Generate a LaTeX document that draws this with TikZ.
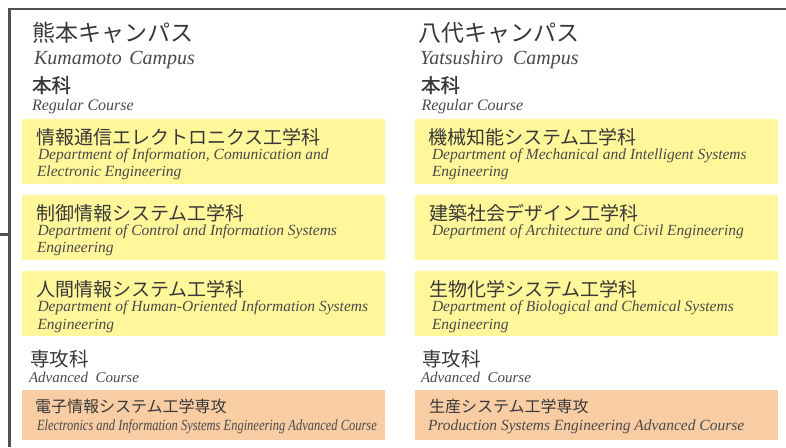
\documentclass[tikz,border=0pt]{standalone}
\usepackage{graphicx}
\usepackage{fontspec}
\setmainfont{Liberation Serif}
\newfontfamily\jp{Noto Sans CJK JP}
\newfontfamily\jpb[FakeBold=1.2]{Noto Sans CJK JP}
\definecolor{yfill}{HTML}{FFF799}
\definecolor{ofill}{HTML}{F9CDA4}
\definecolor{framec}{HTML}{505050}
\definecolor{jptext}{HTML}{383838}
\definecolor{entext}{HTML}{4A4A4A}
\begin{document}
\begin{tikzpicture}[x=1pt,y=-1pt,
  every node/.style={inner sep=0pt, outer sep=0pt, anchor=base west},
  frameline/.style={draw=framec, line width=2.2pt, line join=miter},
  ybox/.style={fill=yfill, anchor=north west, minimum width=363pt, minimum height=65pt},
  obox/.style={fill=ofill, anchor=north west, minimum width=363pt, minimum height=50pt},
  campus/.style={font=\jp\fontsize{23}{26}\selectfont, text=jptext},
  campusen/.style={font=\itshape\fontsize{20}{22}\selectfont, text=entext},
  course/.style={font=\jpb\fontsize{19.5}{22}\selectfont, text=jptext},
  adv/.style={font=\jp\fontsize{19.5}{22}\selectfont, text=jptext},
  courseen/.style={font=\itshape\fontsize{16}{18}\selectfont, text=entext},
  advcen/.style={font=\itshape\fontsize{15}{17}\selectfont, text=entext},
  dept/.style={font=\jp\fontsize{19}{22}\selectfont, text=jptext},
  depten/.style={font=\itshape\fontsize{15.5}{17}\selectfont, text=entext},
  major/.style={font=\jp\fontsize{16}{18}\selectfont, text=jptext},
  majoren/.style={font=\itshape\fontsize{15.5}{17}\selectfont, text=entext}
]
\useasboundingbox (0,0) rectangle (786,447);
% frame
\coordinate (fb) at (9.5,447);
\coordinate (fc) at (9.5,9);
\coordinate (fr) at (786,9);
\coordinate (tl) at (0,234.5);
\coordinate (tr) at (9.5,234.5);
\draw[frameline] (fb) -- (fc) -- (fr);
\draw[frameline] (tl) -- (tr);

% boxes left
\node[ybox] (L1) at (22,119) {};
\node[ybox] (L2) at (22,195) {};
\node[ybox] (L3) at (22,271) {};
\node[obox] (L4) at (22,389.5) {};
% boxes right
\node[ybox] (R1) at (415,119) {};
\node[ybox] (R2) at (415,195) {};
\node[ybox] (R3) at (415,271) {};
\node[obox] (R4) at (415,389.5) {};

% left column texts
\node[campus] (lc) at (32,41) {熊本キャンパス};
\node[campusen] (lce) at (34,64.5) {Kumamoto\hspace{0.38em}Campus};
\node[course] (lr) at (32,92.5) {本科};
\node[courseen] (lre) at (32,110.7) {Regular Course};
\node[dept] (l1) at (36,144.5) {情報通信エレクトロニクス工学科};
\node[depten] (l1a) at (38,159.5) {Department of Information, Comunication and};
\node[depten] (l1b) at (37,176.7) {Electronic Engineering};
\node[dept] (l2) at (36,220.5) {制御情報システム工学科};
\node[depten] (l2a) at (37.5,235.8) {Department of Control and Information Systems};
\node[depten] (l2b) at (37,252.8) {Engineering};
\node[dept] (l3) at (36,296.5) {人間情報システム工学科};
\node[depten] (l3a) at (37.5,311.7) {Department of Human-Oriented Information Systems};
\node[depten] (l3b) at (37.5,329) {Engineering};
\node[adv] (la) at (30,366) {専攻科};
\node[advcen] (lae) at (29,382.7) {Advanced\ \ Course};
\node[major] (l4) at (35,412.5) {電子情報システム工学専攻};
\node[majoren] (l4a) at (37,430) {\scalebox{0.805}[1]{Electronics and Information Systems Engineering Advanced Course}};

% right column texts
\node[campus] (rc) at (418,41) {八代キャンパス};
\node[campusen] (rce) at (420,64.5) {Yatsushiro\ \ Campus};
\node[course] (rr) at (421,92.5) {本科};
\node[courseen] (rre) at (421.5,110.7) {Regular Course};
\node[dept] (r1) at (428,144.5) {機械知能システム工学科};
\node[depten] (r1a) at (432,159.5) {Department of Mechanical and Intelligent Systems};
\node[depten] (r1b) at (432,176.7) {Engineering};
\node[dept] (r2) at (429,220.5) {建築社会デザイン工学科};
\node[depten] (r2a) at (432,235) {Department of Architecture and Civil Engineering};
\node[dept] (r3) at (429,296.5) {生物化学システム工学科};
\node[depten] (r3a) at (432,311.7) {Department of Biological and Chemical Systems};
\node[depten] (r3b) at (432,329) {Engineering};
\node[adv] (ra) at (422,366) {専攻科};
\node[advcen] (rae) at (421,382.7) {Advanced\ \ Course};
\node[major] (r4) at (429,412.5) {生産システム工学専攻};
\node[majoren] (r4a) at (428,430) {Production Systems Engineering Advanced Course};
\end{tikzpicture}
\end{document}
